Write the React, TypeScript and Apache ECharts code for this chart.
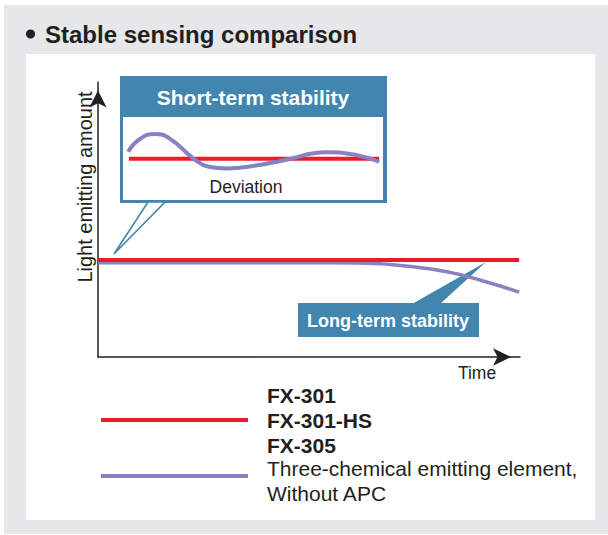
import React, { useEffect, useRef } from "react";
import * as echarts from "echarts";

// Main chart (long-term) — x: time (0..100), y: light emitting amount (0..100)
const mainRedX = [0, 99.8];
const mainRedY = [35.3, 35.3];
const mainPurpleX = [0, 30, 55, 66.8, 74.6, 82.7, 90.5, 99.8];
const mainPurpleY = [34.3, 34.3, 34.3, 33.95, 32.8, 31.0, 28.0, 23.6];

// Inset chart (short-term)
const insetRedX = [2.3, 98.5];
const insetRedY = [49.8, 49.8];
const insetPurpleX = [2.0, 6.5, 12.3, 18.0, 27.0, 33.0, 40.0, 50.0, 62.0, 78.3, 90.0, 98.5];
const insetPurpleY = [58.2, 73.5, 79.5, 74.0, 50.2, 40.0, 38.0, 41.0, 48.0, 57.5, 54.0, 46.1];

// Texts
const titleText = "Stable sensing comparison";
const yAxisName = "Light emitting amount";
const xAxisName = "Time";
const shortTermLabel = "Short-term stability";
const longTermLabel = "Long-term stability";
const deviationLabel = "Deviation";
const legendRed = ["FX-301", "FX-301-HS", "FX-305"];
const legendPurple = ["Three-chemical emitting element,", "Without APC"];

const RED = "#ea1c2a";
const PURPLE = "#8b80c2";
const BLUE = "#4285ae";
const INK = "#231f20";
const FONT = "'Liberation Sans', Arial, Helvetica, sans-serif";

const zip = (xs: number[], ys: number[]) => xs.map((x, i) => [x, ys[i]]);

export default function App() {
  const ref = useRef<HTMLDivElement>(null);
  useEffect(() => {
    if (!ref.current) return;
    const chart = echarts.init(ref.current, null, { renderer: "svg" });
    const hiddenAxis = { type: "value", min: 0, max: 100, show: false };
    const option: any = {
      animation: false,
      backgroundColor: "#ffffff",
      grid: [
        { left: 98, top: 82, width: 422, height: 275 },
        { left: 123, top: 117, width: 260, height: 83 },
      ],
      xAxis: [
        {
          type: "value",
          gridIndex: 0,
          min: 0,
          max: 100,
          axisLine: {
            show: true,
            symbol: ["none", "arrow"],
            symbolSize: [13, 18],
            symbolOffset: [0, -9],
            lineStyle: { color: INK, width: 1.5 },
          },
          axisTick: { show: false },
          axisLabel: { show: false },
          splitLine: { show: false },
        },
        { ...hiddenAxis, gridIndex: 1 },
      ],
      yAxis: [
        {
          type: "value",
          gridIndex: 0,
          min: 0,
          max: 100,
          axisLine: {
            show: true,
            symbol: ["none", "arrow"],
            symbolSize: [13, 17],
            symbolOffset: [0, -8.5],
            lineStyle: { color: INK, width: 1.5 },
          },
          axisTick: { show: false },
          axisLabel: { show: false },
          splitLine: { show: false },
        },
        { ...hiddenAxis, gridIndex: 1 },
      ],
      series: [
        {
          type: "line",
          xAxisIndex: 0,
          yAxisIndex: 0,
          data: zip(mainPurpleX, mainPurpleY),
          smooth: 0.4,
          showSymbol: false,
          lineStyle: { color: PURPLE, width: 3.5 },
          z: 5,
        },
        {
          type: "line",
          xAxisIndex: 0,
          yAxisIndex: 0,
          data: zip(mainRedX, mainRedY),
          showSymbol: false,
          lineStyle: { color: RED, width: 4 },
          z: 6,
        },
        {
          type: "line",
          xAxisIndex: 1,
          yAxisIndex: 1,
          data: zip(insetRedX, insetRedY),
          showSymbol: false,
          lineStyle: { color: RED, width: 4 },
          z: 5,
        },
        {
          type: "line",
          xAxisIndex: 1,
          yAxisIndex: 1,
          data: zip(insetPurpleX, insetPurpleY),
          smooth: 0.5,
          showSymbol: false,
          lineStyle: { color: PURPLE, width: 4 },
          z: 6,
        },
      ],
      graphic: [
        // background panels
        { type: "rect", z: -10, shape: { x: 4, y: 5, width: 604, height: 529 }, style: { fill: "#e6e7e8" } },
        { type: "rect", z: -9, shape: { x: 26, y: 54, width: 569, height: 466 }, style: { fill: "#ffffff" } },
        // title
        { type: "circle", z: 1, shape: { cx: 30.5, cy: 34, r: 4.6 }, style: { fill: INK } },
        {
          type: "text",
          z: 1,
          x: 45,
          y: 34,
          style: { text: titleText, font: `bold 24px ${FONT}`, fill: INK, textVerticalAlign: "middle", textAlign: "left" },
        },
        // axis names
        {
          type: "text",
          z: 1,
          x: 85,
          y: 187,
          rotation: Math.PI / 2,
          style: { text: yAxisName, font: `20px ${FONT}`, fill: INK, textAlign: "center", textVerticalAlign: "middle" },
        },
        {
          type: "text",
          z: 1,
          x: 477,
          y: 373,
          style: { text: xAxisName, font: `17.5px ${FONT}`, fill: INK, textAlign: "center", textVerticalAlign: "middle" },
        },
        // short-term box
        { type: "rect", z: 1, shape: { x: 120, y: 76, width: 267, height: 127 }, style: { fill: BLUE } },
        { type: "rect", z: 2, shape: { x: 123, y: 117, width: 260, height: 83 }, style: { fill: "#ffffff" } },
        {
          type: "polygon",
          z: 2,
          shape: { points: [[148, 202], [114, 254], [165, 202]] },
          style: { fill: "#ffffff", stroke: BLUE, lineWidth: 1.6 },
        },
        {
          type: "text",
          z: 3,
          x: 253,
          y: 97,
          style: { text: shortTermLabel, font: `bold 21px ${FONT}`, fill: "#ffffff", textAlign: "center", textVerticalAlign: "middle" },
        },
        {
          type: "text",
          z: 3,
          x: 246,
          y: 187,
          style: { text: deviationLabel, font: `17.5px ${FONT}`, fill: INK, textAlign: "center", textVerticalAlign: "middle" },
        },
        // long-term box
        { type: "polygon", z: 1, shape: { points: [[412, 304], [440, 304], [486, 262]] }, style: { fill: BLUE } },
        { type: "rect", z: 1, shape: { x: 298, y: 303, width: 181, height: 34 }, style: { fill: BLUE } },
        {
          type: "text",
          z: 3,
          x: 388,
          y: 320.5,
          style: { text: longTermLabel, font: `bold 18px ${FONT}`, fill: "#ffffff", textAlign: "center", textVerticalAlign: "middle" },
        },
        // legend
        { type: "line", z: 1, shape: { x1: 101, y1: 420, x2: 248, y2: 420 }, style: { stroke: RED, lineWidth: 4 } },
        { type: "line", z: 1, shape: { x1: 101, y1: 476, x2: 248, y2: 476 }, style: { stroke: PURPLE, lineWidth: 4 } },
        ...legendRed.map((t, i) => ({
          type: "text",
          z: 1,
          x: 267,
          y: 395 + i * 25,
          style: { text: t, font: `bold 21px ${FONT}`, fill: INK, textAlign: "left", textVerticalAlign: "middle" },
        })),
        ...legendPurple.map((t, i) => ({
          type: "text",
          z: 1,
          x: 267,
          y: 468 + i * 25,
          style: { text: t, font: `21px ${FONT}`, fill: INK, textAlign: "left", textVerticalAlign: "middle" },
        })),
      ],
    };
    chart.setOption(option);
    return () => chart.dispose();
  }, []);
  return (
    <div
      ref={ref}
      style={{ position: "fixed", left: 0, top: 0, width: 608, height: 535, background: "#fff" }}
    />
  );
}
